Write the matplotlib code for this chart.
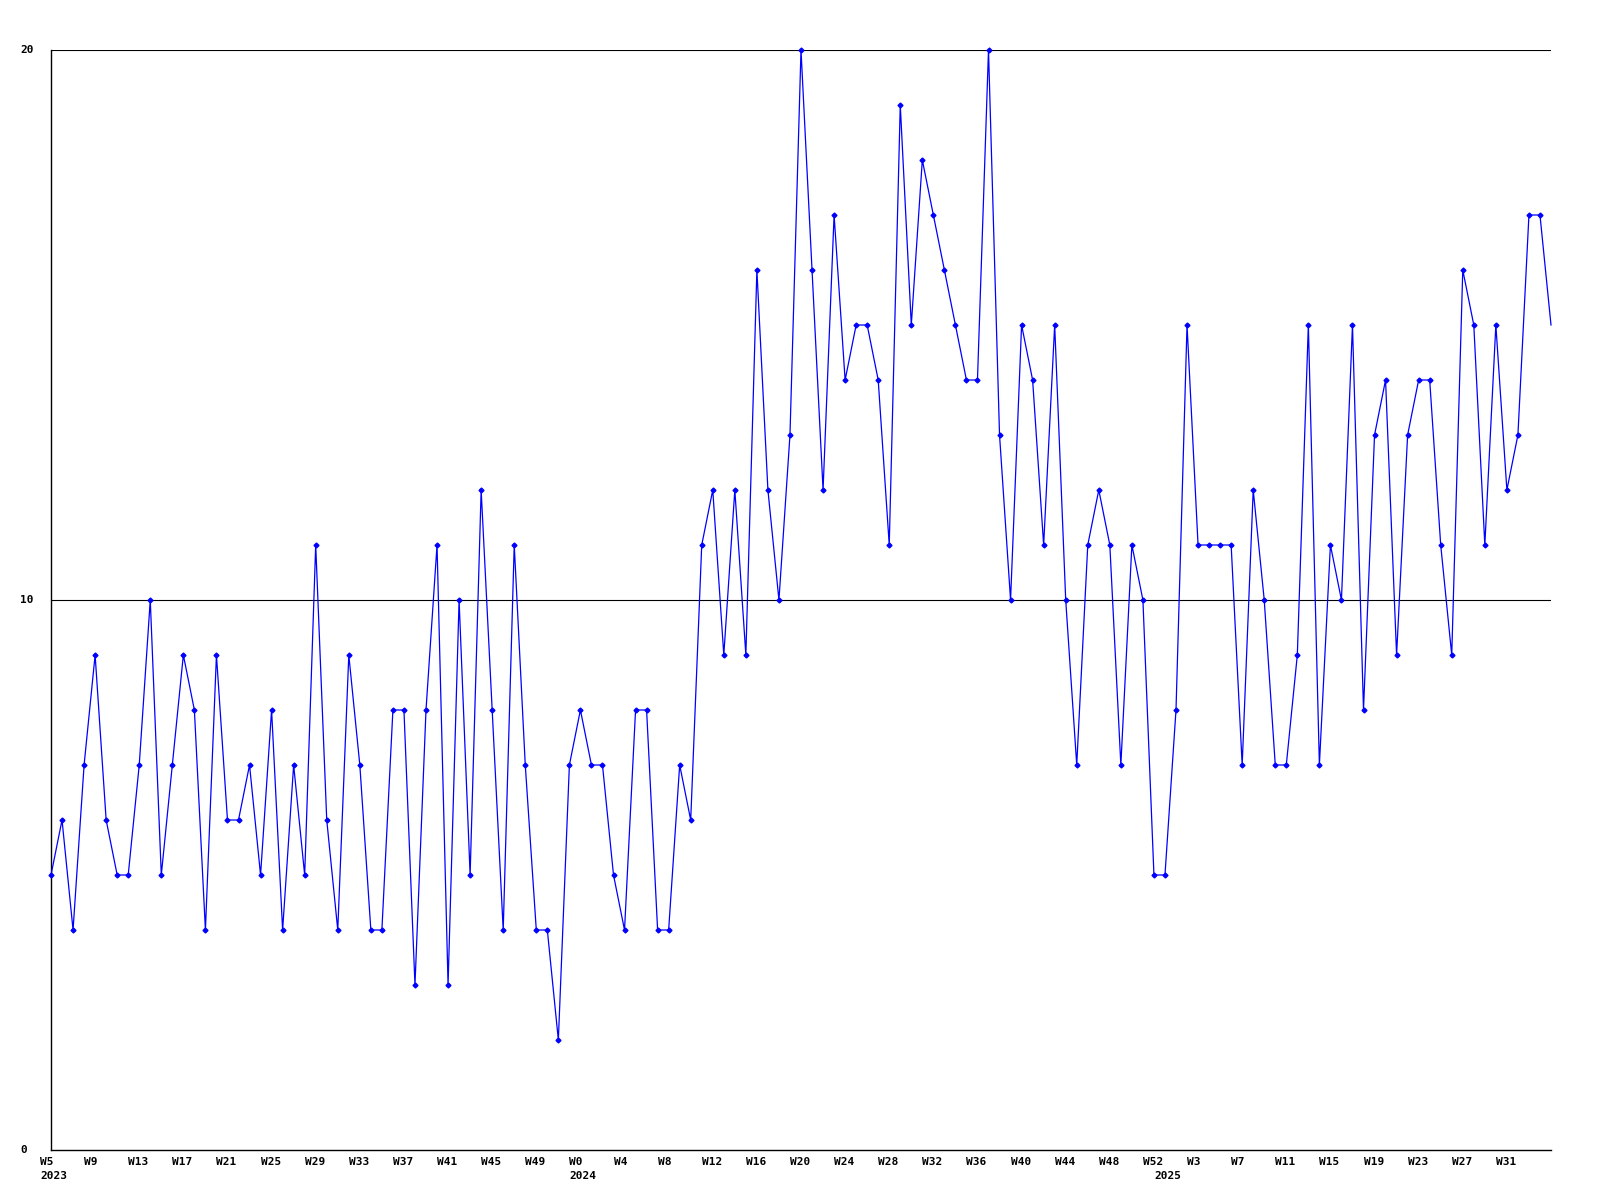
import matplotlib

matplotlib.use("Agg")
import matplotlib.pyplot as plt
import matplotlib.transforms as mtransforms
import numpy as np

# weekly values, 2023 W5 .. 2025 W35
values = [
    5, 6, 4, 7, 9, 6, 5, 5, 7, 10, 5, 7, 9, 8, 4, 9, 6, 6, 7, 5, 8, 4, 7, 5, 11, 6, 4, 9,
    7, 4, 4, 8, 8, 3, 8, 11, 3, 10, 5, 12, 8, 4, 11, 7, 4, 4, 2, 7, 8, 7, 7, 5, 4, 8, 8,
    4, 4, 7, 6, 11, 12, 9, 12, 9, 16, 12, 10, 13, 20, 16, 12, 17, 14, 15, 15, 14, 11, 19, 15, 18, 17, 16,
    15, 14, 14, 20, 13, 10, 15, 14, 11, 15, 10, 7, 11, 12, 11, 7, 11, 10, 5, 5, 8, 15, 11, 11, 11, 11, 7,
    12, 10, 7, 7, 9, 15, 7, 11, 10, 15, 8, 13, 14, 9, 13, 14, 14, 11, 9, 16, 15, 11, 15, 12, 13, 17, 17, 15,
]

week_labels = (
    ["W5", "W9", "W13", "W17", "W21", "W25", "W29", "W33", "W37", "W41", "W45", "W49"]
    + ["W0", "W4", "W8", "W12", "W16", "W20", "W24", "W28", "W32", "W36", "W40", "W44", "W48", "W52"]
    + ["W3", "W7", "W11", "W15", "W19", "W23", "W27", "W31"]
)
week_label_pos = list(range(0, 133, 4))

year_labels = ["2023", "2024", "2025"]
year_label_pos = [0, 48, 101]

y_ticks = [0, 10, 20]

FONT = dict(family="DejaVu Sans Mono", fontweight="bold", fontsize=8)

fig = plt.figure(figsize=(16, 12), dpi=100)
ax = fig.add_axes([51 / 1600, 50 / 1200, 1500 / 1600, 1100 / 1200])

x = np.arange(len(values))
# the last week sits on the right edge and has no marker in the original
ax.plot(x, values, color="#0000ff", linewidth=0.9, marker="D", markersize=2.5,
        markevery=list(range(len(values) - 1)), clip_on=False, zorder=3)

ax.set_xlim(0, len(values) - 1)
ax.set_ylim(0, 20)

for yv in y_ticks[1:]:
    ax.axhline(yv, color="black", linewidth=0.8, zorder=1)

for side in ("top", "right"):
    ax.spines[side].set_visible(False)
for side in ("left", "bottom"):
    ax.spines[side].set_linewidth(1.0)
    ax.spines[side].set_color("black")

ax.set_xticks([])
ax.set_yticks([])

# x labels sit a little left of their week, like the original renderer
xtrans = mtransforms.offset_copy(
    mtransforms.blended_transform_factory(ax.transData, fig.transFigure),
    fig=fig, x=-11, y=0, units="dots",
)
for pos, lab in zip(week_label_pos, week_labels):
    ax.text(pos, 1 - 1157 / 1200, lab, transform=xtrans, ha="left", va="top", **FONT)
for pos, lab in zip(year_label_pos, year_labels):
    ax.text(pos, 1 - 1171 / 1200, lab, transform=xtrans, ha="left", va="top", **FONT)

ytrans = mtransforms.blended_transform_factory(fig.transFigure, ax.transData)
for yv in y_ticks:
    ax.text(20 / 1600, yv, str(yv), transform=ytrans, ha="left", va="center", **FONT)

fig.savefig("out.png", dpi=100)
